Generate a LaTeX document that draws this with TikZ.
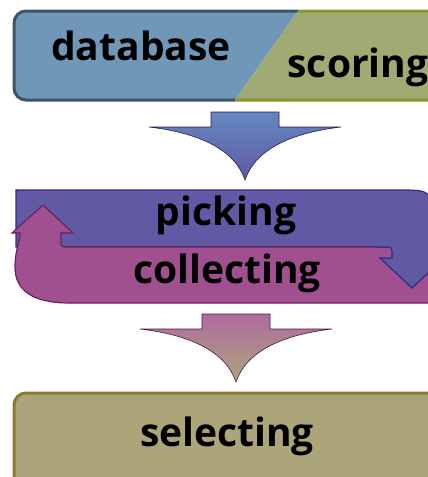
\documentclass[tikz,border=0pt]{standalone}
\usepackage{fontspec}
\setmainfont{Open Sans}
\usepackage{tikz}
\usetikzlibrary{calc}

\definecolor{dbfill}{HTML}{7096B8}
\definecolor{dbline}{HTML}{3D5468}
\definecolor{scfill}{HTML}{A0AA73}
\definecolor{scline}{HTML}{7E9A2E}
\definecolor{pkfill}{HTML}{605AA5}
\definecolor{pkline}{HTML}{2E2A80}
\definecolor{clfill}{HTML}{A0508F}
\definecolor{clline}{HTML}{6A1F5E}
\definecolor{slfill}{HTML}{ACA57A}
\definecolor{slline}{HTML}{8E7A2C}

\tikzset{
  label/.style={font=\fontsize{39}{44}\selectfont\bfseries, text=black, inner sep=0pt},
  boxline/.style={line width=3pt, rounded corners=12pt}
}

\begin{document}
\begin{tikzpicture}[x=1pt,y=-1pt]
        \useasboundingbox (0,0) rectangle (428,477);
        % Top box, split by a diagonal
        \begin{scope}
          \clip (0,0) -- (298,0) -- (298,11) -- (235,100) -- (235,477) -- (0,477) -- cycle;
          \draw[boxline,fill=dbfill,draw=dbline] (14,11) rectangle (445,100);
        \end{scope}
        \begin{scope}
          \clip (298,0) -- (500,0) -- (500,477) -- (235,477) -- (235,100) -- (298,11) -- cycle;
          \draw[boxline,fill=scfill,draw=scline] (14,11) rectangle (445,100);
        \end{scope}
        \node[label] (db) at (141,46) {database};
        \node[label] (scoring) at (358,67) {scoring};
        % First arrow down
        \draw[draw=pkline!70!black,line width=0.6pt,top color=dbfill!90!blue,bottom color=pkfill]
          (211,112) -- (279,112) -- (279,127) -- (341,127)
          .. controls (290,133) and (255,150) .. (245,180)
          .. controls (235,150) and (200,133) .. (149,127)
          -- (211,127) -- cycle;
        % Blue band turning down
        \draw[fill=pkfill,draw=pkline,line width=1.2pt]
          (16,190) -- (398,190) .. controls (432,190) .. (432,224)
          -- (432,258) -- (444,258) -- (412,288) -- (380,258) -- (392,258)
          -- (392,255) .. controls (392,247) .. (384,247) -- (16,247) -- cycle;
        % Pink band turning up
        \draw[fill=clfill,draw=clline,line width=1.2pt]
          (43,205) -- (73,233) -- (61,233) -- (61,240) .. controls (61,247) .. (69,247)
          -- (445,247) -- (445,303) -- (70,303)
          .. controls (32,303) and (15,290) .. (15,267)
          .. controls (15,250) and (20,242) .. (20,233)
          -- (12,233) -- cycle;
        % Blue arrow head again, on top of the pink band
        \begin{scope}
          \clip (376,240) rectangle (450,300);
          \draw[fill=pkfill,draw=pkline,line width=1.2pt]
            (16,190) -- (398,190) .. controls (432,190) .. (432,224)
            -- (432,258) -- (444,258) -- (412,288) -- (380,258) -- (392,258)
            -- (392,255) .. controls (392,247) .. (384,247) -- (16,247) -- cycle;
        \end{scope}
        \node[label] (picking) at (226,215) {picking};
        \node[label] (collecting) at (227,273) {collecting};
        % Second arrow down
        \begin{scope}[shift={(-9,202)}]
          \draw[draw=clline!70!black,line width=0.6pt,top color=clfill!85!white,bottom color=slfill]
            (211,112) -- (279,112) -- (279,127) -- (341,127)
            .. controls (290,133) and (255,150) .. (245,180)
            .. controls (235,150) and (200,133) .. (149,127)
            -- (211,127) -- cycle;
        \end{scope}
        % Bottom box
        \draw[boxline,fill=slfill,draw=slline] (14,393) rectangle (445,495);
        \node[label] (selecting) at (227,436) {selecting};
    \end{tikzpicture}
\end{document}
